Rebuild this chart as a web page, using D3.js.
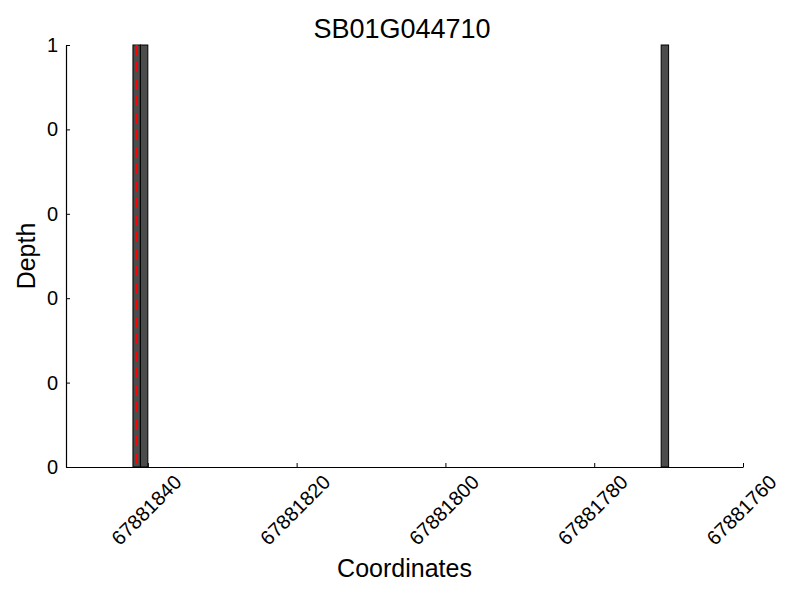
<!DOCTYPE html>
<html>
<head>
<meta charset="utf-8">
<script src="https://cdn.jsdelivr.net/npm/d3@7"></script>
<style>
  body { margin: 0; background: #fff; }
  text { font-family: "Liberation Sans", Arial, sans-serif; fill: #000; }
</style>
</head>
<body>
<div class="chart"></div>
<script>
// data
var title = "SB01G044710";
var barStarts = [67881841, 67881840, 67881770];
var barDepths = [1, 1, 1];
var markerPos = [67881841.5];
var xTicks = [67881840, 67881820, 67881800, 67881780, 67881760];
var yTicks = [0, 0.2, 0.4, 0.6, 0.8, 1];
var xDomain = [67881851, 67881760];

var width = 800, height = 600;
var margin = {top: 45, right: 57, bottom: 133, left: 66};
var w = width - margin.left - margin.right,
    h = height - margin.top - margin.bottom;

var svg = d3.select(".chart").append("svg")
  .attr("width", width)
  .attr("height", height);

var chart = svg.append("g")
  .attr("transform", "translate(" + margin.left + "," + margin.top + ")");

var x = d3.scaleLinear().domain(xDomain).range([0, w]);
var y = d3.scaleLinear().domain([0, 1]).range([h, 0]);

var bars = barStarts.map(function(d, i) { return {pos: d, depth: barDepths[i]}; });

chart.selectAll(".bar")
  .data(bars)
  .enter().append("rect")
  .attr("class", "bar")
  .attr("x", function(d) { return x(d.pos + 1); })
  .attr("width", function(d) { return x(d.pos) - x(d.pos + 1); })
  .attr("y", function(d) { return y(d.depth); })
  .attr("height", function(d) { return h - y(d.depth); })
  .attr("fill", "#4c4c4c")
  .attr("stroke", "#000")
  .attr("stroke-width", 1);

chart.selectAll(".marker")
  .data(markerPos)
  .enter().append("line")
  .attr("class", "marker")
  .attr("x1", function(d) { return x(d); })
  .attr("x2", function(d) { return x(d); })
  .attr("y1", y(1))
  .attr("y2", y(0))
  .attr("stroke", "#ff0000")
  .attr("stroke-width", 2.5)
  .attr("stroke-dasharray", "10,7");

// x axis, ticks point inward
var xAxis = chart.append("g")
  .attr("class", "x axis")
  .attr("transform", "translate(0," + h + ")")
  .call(d3.axisBottom(x).tickValues(xTicks).tickSizeInner(-4).tickSizeOuter(0).tickFormat(d3.format("d")));
xAxis.select(".domain").attr("stroke", "#000").attr("stroke-width", 1.2);
xAxis.selectAll(".tick line").attr("stroke", "#000");
xAxis.selectAll(".tick text")
  .attr("y", 0)
  .attr("dy", null)
  .attr("text-anchor", "middle")
  .attr("dominant-baseline", "central")
  .attr("transform", "translate(-2,43) rotate(-45)")
  .style("font-size", "20px");

// labels are truncated to integers, so 0.2..0.8 read "0"
var yAxis = chart.append("g")
  .attr("class", "y axis")
  .call(d3.axisLeft(y).tickValues(yTicks).tickSizeInner(-4).tickSizeOuter(0)
    .tickFormat(function(d) { return Math.floor(d + 1e-9); }));
yAxis.select(".domain").attr("stroke", "#000").attr("stroke-width", 1.2);
yAxis.selectAll(".tick line").attr("stroke", "#000");
yAxis.selectAll(".tick text")
  .attr("x", -8)
  .style("font-size", "20px");

svg.append("text")
  .attr("x", 402)
  .attr("y", 38)
  .attr("text-anchor", "middle")
  .style("font-size", "27px")
  .text(title);

svg.append("text")
  .attr("x", margin.left + w / 2)
  .attr("y", 577)
  .attr("text-anchor", "middle")
  .style("font-size", "25px")
  .text("Coordinates");

svg.append("text")
  .attr("transform", "translate(35," + (margin.top + h / 2) + ") rotate(-90)")
  .attr("text-anchor", "middle")
  .style("font-size", "25px")
  .text("Depth");
</script>
</body>
</html>
